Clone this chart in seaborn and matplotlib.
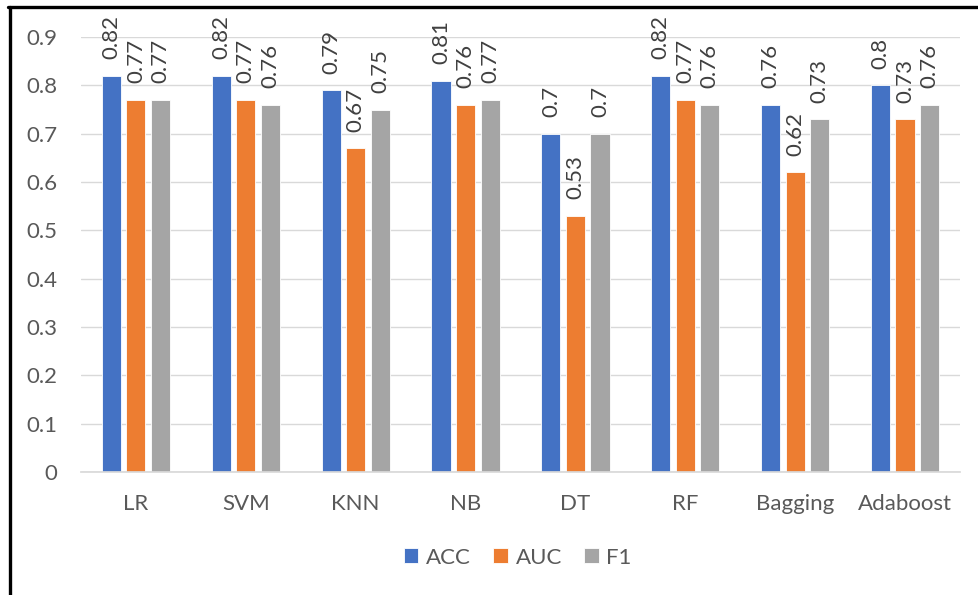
import matplotlib
matplotlib.use("Agg")
import matplotlib.pyplot as plt
import seaborn as sns
import pandas as pd
from matplotlib.lines import Line2D

models = ["LR", "SVM", "KNN", "NB", "DT", "RF", "Bagging", "Adaboost"]
acc = [0.82, 0.82, 0.79, 0.81, 0.70, 0.82, 0.76, 0.80]
auc = [0.77, 0.77, 0.67, 0.76, 0.53, 0.77, 0.62, 0.73]
f1 = [0.77, 0.76, 0.75, 0.77, 0.70, 0.76, 0.73, 0.76]
metrics = ["ACC", "AUC", "F1"]
colors = ["#4472C4", "#ED7D31", "#A5A5A5"]

df = pd.DataFrame({
    "Model": models * 3,
    "Metric": [m for m in metrics for _ in models],
    "Score": acc + auc + f1,
})

sns.set_theme(style="white")
plt.rcParams["font.family"] = ["Lato", "DejaVu Sans"]
text_color = "#595959"
fs = 16

fig = plt.figure(figsize=(9.79, 5.95), dpi=100)
ax = fig.add_axes([0.0827, 0.2067, 0.8979, 0.7311])

sns.barplot(data=df, x="Model", y="Score", hue="Metric", order=models,
            hue_order=metrics, palette=colors, width=0.67, gap=0.22,
            saturation=1, edgecolor="white", linewidth=0.6, ax=ax)

for cont in ax.containers:
    ax.bar_label(cont, labels=[f"{v:g}" for v in cont.datavalues],
                 rotation=90, padding=12, fontsize=fs, color="#404040")

ax.set_ylim(0, 0.9)
ax.set_xlim(-0.5, len(models) - 0.5)
ax.set_yticks([i / 10 for i in range(10)])
ax.set_yticklabels(["0"] + [f"{i / 10:g}" for i in range(1, 10)])
ax.yaxis.grid(True, color="#D9D9D9", linewidth=1)
ax.set_axisbelow(True)
for s in ["top", "right", "left"]:
    ax.spines[s].set_visible(False)
ax.spines["bottom"].set_color("#D9D9D9")
ax.tick_params(axis="y", length=0, pad=17, labelsize=fs, labelcolor=text_color)
ax.tick_params(axis="x", length=0, pad=16, labelsize=fs, labelcolor=text_color)
ax.set_xlabel("")
ax.set_ylabel("")

ax.legend(loc="center", bbox_to_anchor=(0.497, -0.197), ncol=3, frameon=False,
          fontsize=fs, labelcolor=text_color, handlelength=0.65,
          handleheight=0.65, handletextpad=0.35, columnspacing=1.0)

# figure frame
fig.add_artist(Line2D([9.5 / 979, 9.5 / 979], [0, 1 - 7 / 595],
                      transform=fig.transFigure, color="black", linewidth=2.4))
fig.add_artist(Line2D([8.3 / 979, 1], [1 - 7 / 595, 1 - 7 / 595],
                      transform=fig.transFigure, color="black", linewidth=2.4))

fig.savefig("out.png", dpi=100)
